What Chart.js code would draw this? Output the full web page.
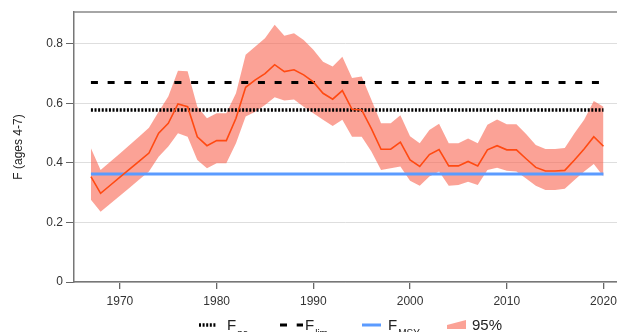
<!DOCTYPE html>
<html>
<head>
<meta charset="utf-8">
<script src="https://cdn.jsdelivr.net/npm/chart.js@4"></script>
<style>
  html, body { margin: 0; padding: 0; background: #fff; overflow: hidden; }
  #wrap { width: 617px; height: 332px; }
</style>
</head>
<body>
<div id="wrap"><canvas id="fchart"></canvas></div>
<script>
// fishing mortality, ages 4-7
const years = [1967, 1968, 1969, 1970, 1971, 1972, 1973, 1974, 1975, 1976,
  1977, 1978, 1979, 1980, 1981, 1982, 1983, 1984, 1985, 1986,
  1987, 1988, 1989, 1990, 1991, 1992, 1993, 1994, 1995, 1996,
  1997, 1998, 1999, 2000, 2001, 2002, 2003, 2004, 2005, 2006,
  2007, 2008, 2009, 2010, 2011, 2012, 2013, 2014, 2015, 2016,
  2017, 2018, 2019, 2020];

const fEst = [0.354, 0.298, 0.325, 0.352, 0.379, 0.406, 0.433, 0.50, 0.533, 0.598,
  0.589, 0.488, 0.458, 0.475, 0.475, 0.55, 0.654, 0.679, 0.70, 0.73,
  0.707, 0.713, 0.696, 0.672, 0.634, 0.614, 0.643, 0.58, 0.578, 0.515,
  0.446, 0.446, 0.47, 0.41, 0.388, 0.428, 0.445, 0.39, 0.39, 0.405,
  0.39, 0.444, 0.458, 0.444, 0.444, 0.414, 0.385, 0.373, 0.373, 0.375,
  0.41, 0.447, 0.488, 0.456];

const fHigh = [0.449, 0.376, 0.404, 0.432, 0.46, 0.489, 0.518, 0.572, 0.623, 0.71,
  0.708, 0.589, 0.55, 0.567, 0.567, 0.634, 0.763, 0.791, 0.819, 0.864,
  0.827, 0.836, 0.813, 0.78, 0.74, 0.724, 0.757, 0.685, 0.69, 0.612,
  0.533, 0.533, 0.56, 0.49, 0.466, 0.511, 0.532, 0.466, 0.466, 0.482,
  0.466, 0.528, 0.546, 0.53, 0.53, 0.497, 0.46, 0.447, 0.447, 0.45,
  0.50, 0.545, 0.608, 0.589];

const fLow = [0.276, 0.236, 0.263, 0.29, 0.317, 0.344, 0.371, 0.421, 0.455, 0.50,
  0.488, 0.41, 0.382, 0.399, 0.399, 0.466, 0.556, 0.572, 0.595, 0.621,
  0.61, 0.613, 0.589, 0.567, 0.545, 0.524, 0.545, 0.488, 0.488, 0.438,
  0.376, 0.382, 0.388, 0.34, 0.323, 0.354, 0.371, 0.323, 0.326, 0.337,
  0.326, 0.376, 0.384, 0.374, 0.371, 0.348, 0.323, 0.309, 0.309, 0.313,
  0.343, 0.371, 0.396, 0.354];

const Fpa = 0.578;
const Flim = 0.67;
const Fmsy = 0.363;

const xTicks = [1970, 1980, 1990, 2000, 2010, 2020];
const yTicks = [0, 0.2, 0.4, 0.6, 0.8];

const pts = arr => arr.map((v, i) => ({ x: years[i], y: v }));
const flat = v => [{ x: years[0], y: v }, { x: years[years.length - 1], y: v }];

const FONT = "'Liberation Sans', Arial, sans-serif";

// top frame line + legend under the axis
const extras = {
  id: 'extras',
  afterDraw(chart) {
    const c = chart.ctx;
    const a = chart.chartArea;
    c.save();
    c.strokeStyle = '#888';
    c.lineWidth = 1.5;
    c.beginPath();
    c.moveTo(a.left, a.top);
    c.lineTo(a.right, a.top);
    c.stroke();

    const ly = 325;
    const base = 330;
    c.lineCap = 'butt';
    // Fpa dotted
    c.strokeStyle = '#000';
    c.lineWidth = 3.5;
    c.setLineDash([2, 1.6]);
    c.beginPath(); c.moveTo(199, ly); c.lineTo(217, ly); c.stroke();
    // Flim dashed
    c.setLineDash([7, 9.7]);
    c.lineWidth = 3;
    c.beginPath(); c.moveTo(280, ly); c.lineTo(303, ly); c.stroke();
    // Fmsy
    c.setLineDash([]);
    c.strokeStyle = '#5b9bff';
    c.beginPath(); c.moveTo(362, ly); c.lineTo(381, ly); c.stroke();
    // 95% wedge
    c.fillStyle = 'rgba(248,100,80,0.6)';
    c.beginPath();
    c.moveTo(447, 329); c.lineTo(466, 329); c.lineTo(466, 320); c.lineTo(447, 325);
    c.closePath(); c.fill();

    c.fillStyle = '#222';
    c.textBaseline = 'alphabetic';
    const sub = (x, main, s) => {
      c.font = '15px ' + FONT;
      c.fillText(main, x, base);
      const w = c.measureText(main).width;
      c.font = '10px ' + FONT;
      c.fillText(s, x + w + 1, base + 7);
    };
    sub(227, 'F', 'pa');
    sub(305, 'F', 'lim');
    sub(388, 'F', 'MSY');
    c.font = '15px ' + FONT;
    c.fillText('95%', 472, base);
    c.restore();
  }
};

new Chart(document.getElementById('fchart'), {
  type: 'line',
  data: {
    datasets: [
      { data: pts(fEst), borderColor: '#ff4a12', borderWidth: 1.6, pointRadius: 0, fill: false },
      { data: flat(Fmsy), borderColor: '#5b9bff', borderWidth: 3, pointRadius: 0, fill: false },
      { data: flat(Flim), borderColor: '#000', borderWidth: 3, borderDash: [7, 9.7], pointRadius: 0, fill: false },
      { data: flat(Fpa), borderColor: '#000', borderWidth: 3.5, borderDash: [2, 1.6], pointRadius: 0, fill: false },
      { data: pts(fHigh), borderWidth: 0, borderColor: 'rgba(0,0,0,0)', pointRadius: 0,
        fill: '+1', backgroundColor: 'rgba(248,100,80,0.6)' },
      { data: pts(fLow), borderWidth: 0, borderColor: 'rgba(0,0,0,0)', pointRadius: 0, fill: false }
    ]
  },
  options: {
    responsive: true,
    maintainAspectRatio: false,
    animation: false,
    layout: { padding: { top: 12, left: 0, right: 0, bottom: 0 } },
    plugins: { legend: { display: false }, tooltip: { enabled: false } },
    scales: {
      x: {
        type: 'linear',
        min: 1965.25,
        max: 2021.4,
        afterBuildTicks: s => { s.ticks = xTicks.map(v => ({ value: v })); },
        afterFit: s => { s.height = 50; s.paddingLeft = 0; s.paddingRight = 0; },
        ticks: {
          color: '#333',
          padding: 5,
          maxRotation: 0,
          font: { family: FONT, size: 12 },
          callback: v => String(v)
        },
        grid: { drawOnChartArea: false, tickLength: 7, tickColor: '#666', lineWidth: 1.3 },
        border: { color: '#777', width: 1.5 }
      },
      y: {
        min: 0,
        max: 0.907,
        afterBuildTicks: s => { s.ticks = yTicks.map(v => ({ value: v })); },
        afterFit: s => { s.width = 74; s.paddingTop = 0; s.paddingBottom = 0; },
        ticks: {
          color: '#333',
          padding: 3,
          font: { family: FONT, size: 12 },
          callback: v => (v === 0 ? '0' : v.toFixed(1))
        },
        grid: { color: '#dedede', lineWidth: 1, tickLength: 8, tickColor: '#666' },
        border: { color: '#777', width: 1.5 },
        title: {
          display: true,
          text: 'F (ages 4-7)',
          color: '#222',
          font: { family: FONT, size: 12 },
          padding: { top: 11, bottom: 0 }
        }
      }
    }
  },
  plugins: [extras]
});
</script>
</body>
</html>
